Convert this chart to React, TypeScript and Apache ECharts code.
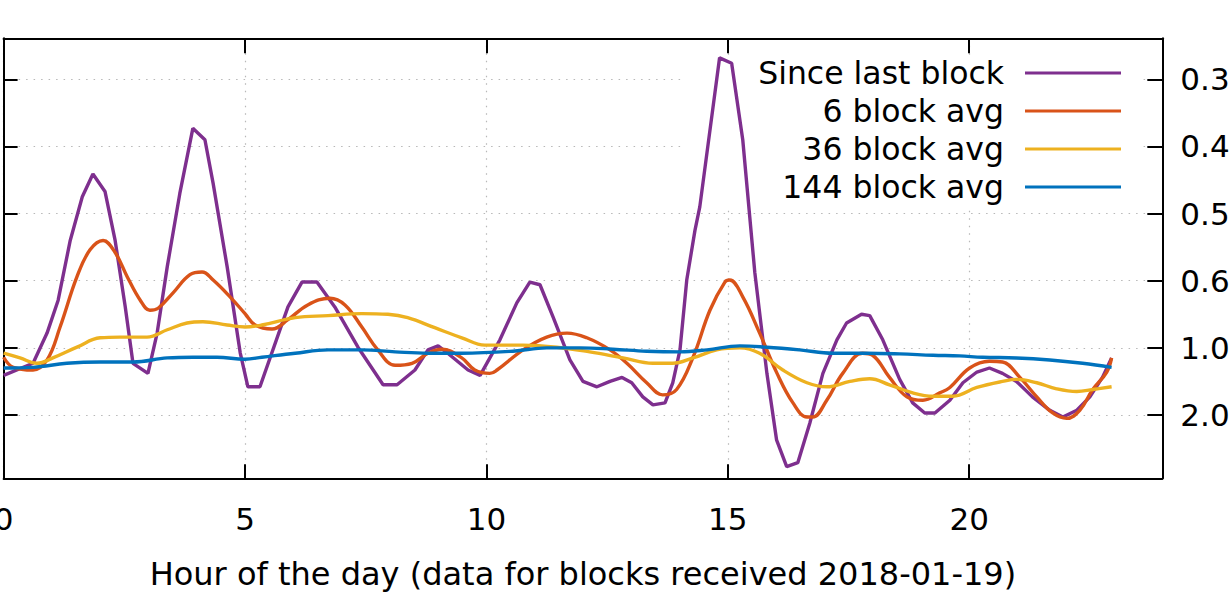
import React, { useEffect, useRef } from "react";
import * as echarts from "echarts";

const seriesNames = ["Since last block", "6 block avg", "36 block avg", "144 block avg"];
const seriesColors = ["#7E2F8E", "#D95319", "#EDB120", "#0072BD"];
const xTickValues = [0, 5, 10, 15, 20];
const yTickValues = [1, 2, 3, 4, 5, 6];
const yTickLabels = ["2.0", "1.0", "0.6", "0.5", "0.4", "0.3"];
const xAxisTitle = "Hour of the day (data for blocks received 2018-01-19)";

const sinceLastHours = [
  0, 0.61, 0.9, 1.13, 1.38, 1.63, 1.85, 2.1, 2.31, 2.52, 2.68, 2.99, 3.18, 3.39, 3.65, 3.92,
  4.17, 4.34, 4.63, 4.9, 5.06, 5.31, 5.89, 6.18, 6.49, 6.86, 7.34, 7.86, 8.15, 8.52, 8.79, 9.0,
  9.2, 9.62, 9.87, 10.28, 10.63, 10.9, 11.11, 11.38, 11.73, 12.0, 12.29, 12.56, 12.81, 13.01,
  13.24, 13.45, 13.7, 13.86, 14.01, 14.15, 14.32, 14.42, 14.83, 15.08, 15.31, 15.56, 15.81,
  16.01, 16.22, 16.45, 16.7, 16.97, 17.26, 17.46, 17.77, 17.94, 18.21, 18.56, 18.83, 19.08,
  19.29, 19.6, 19.87, 20.16, 20.42, 20.69, 20.98, 21.31, 21.67, 21.94, 22.23, 22.5, 22.76, 22.95,
];
const sinceLastValues = [
  1.59, 1.77, 2.22, 2.71, 3.6, 4.25, 4.59, 4.33, 3.6, 2.61, 1.77, 1.62, 2.22, 3.21, 4.3, 5.27,
  5.1, 4.45, 3.21, 1.93, 1.42, 1.42, 2.61, 2.98, 2.98, 2.61, 2.01, 1.45, 1.45, 1.67, 1.97, 2.03,
  1.92, 1.67, 1.59, 2.12, 2.67, 2.98, 2.94, 2.46, 1.82, 1.5, 1.42, 1.5, 1.56, 1.48,
  1.27, 1.15, 1.18, 1.48, 1.97, 3.01, 3.75, 4.1, 6.32, 6.24, 5.1, 3.12, 1.62,
  0.63, 0.23, 0.29, 0.88, 1.62, 2.12, 2.37, 2.5, 2.48, 2.12, 1.53, 1.18, 1.03,
  1.03, 1.22, 1.48, 1.64, 1.7, 1.62, 1.5, 1.27, 1.07, 0.97, 1.07, 1.27, 1.56, 1.85,
];

const avg6Hours = [
  0, 0.2, 0.61, 0.9, 1.17, 1.52, 1.79, 2.06, 2.31, 2.56, 2.83, 3.03, 3.2, 3.51, 3.86, 4.11, 4.34,
  4.69, 5.0, 5.21, 5.56, 5.89, 6.3, 6.76, 7.07, 7.42, 7.75, 8.11, 8.46, 8.79, 9.08, 9.49, 9.76,
  10.07, 10.22, 10.76, 11.25, 11.67, 12.08, 12.56, 12.91, 13.32, 13.65, 13.94, 14.28, 14.63,
  14.94, 15.04, 15.31, 15.66, 16.02, 16.35, 16.64, 16.76, 17.05, 17.38, 17.79, 18.0, 18.35,
  18.71, 19.04, 19.39, 19.6, 20.01, 20.42, 20.69, 21.05, 21.4, 21.73, 22.02, 22.29, 22.56,
  22.85, 22.95,
];
const avg6Values = [
  1.86, 1.71, 1.67, 1.82, 2.31, 3.06, 3.46, 3.6, 3.42, 3.06, 2.71, 2.56, 2.59, 2.82, 3.09, 3.13,
  3.01, 2.76, 2.51, 2.34, 2.28, 2.42, 2.64, 2.74, 2.64, 2.31, 1.97, 1.74, 1.77, 1.92, 1.98, 1.85,
  1.67, 1.62, 1.67, 1.97, 2.16, 2.22, 2.15, 1.97, 1.77, 1.48, 1.3, 1.38, 1.86, 2.56,
  2.98, 3.01, 2.76, 2.22, 1.62, 1.18, 0.97, 0.97, 1.22, 1.62, 1.92, 1.89, 1.56,
  1.27, 1.22, 1.33, 1.41, 1.7, 1.8, 1.79, 1.56, 1.27, 1.03, 0.95, 1.07, 1.38,
  1.64, 1.85,
];

const avg36Hours = [
  0, 0.34, 0.69, 1.02, 1.52, 2.0, 2.41, 2.97, 3.39, 3.8, 4.13, 4.63, 5.0, 5.35, 6.04, 6.72, 7.42,
  7.96, 8.37, 8.93, 9.49, 9.97, 10.28, 10.76, 11.46, 12.14, 12.83, 13.45, 13.86, 14.28, 14.77,
  15.25, 15.66, 16.14, 16.64, 17.05, 17.53, 17.94, 18.35, 18.83, 19.25, 19.66, 20.16, 20.69,
  20.98, 21.4, 21.81, 22.23, 22.56, 22.95,
];
const avg36Values = [
  1.92, 1.85, 1.77, 1.85, 2.01, 2.15, 2.16, 2.16, 2.27, 2.37, 2.39, 2.34, 2.31, 2.34, 2.45, 2.48,
  2.51, 2.5, 2.45, 2.3, 2.15, 2.04, 2.04, 2.04, 2.01, 1.94, 1.85, 1.77, 1.77, 1.85, 1.97,
  2.0, 1.92, 1.67, 1.48, 1.42, 1.5, 1.54, 1.45, 1.33, 1.28, 1.28, 1.41, 1.5,
  1.53, 1.48, 1.39, 1.35, 1.38, 1.42,
];

const avg144Hours = [
  0, 0.61, 1.31, 2.0, 2.68, 3.39, 3.92, 4.42, 5.0, 5.35, 6.04, 6.72, 7.42, 8.11, 8.79, 9.49, 10.55,
  11.25, 11.94, 12.62, 13.32, 14.01, 14.57, 15.25, 15.81, 16.49, 17.18, 17.88, 18.56, 19.25,
  19.8, 20.28, 20.98, 21.67, 22.35, 22.95,
];
const avg144Values = [
  1.7, 1.71, 1.77, 1.79, 1.79, 1.85, 1.86, 1.86, 1.83, 1.86, 1.92, 1.97, 1.97, 1.94, 1.92, 1.92,
  1.95, 2.0, 2.0, 1.98, 1.95, 1.94, 1.97, 2.03, 2.01, 1.97, 1.92, 1.92, 1.91, 1.89,
  1.88, 1.86, 1.85, 1.82, 1.77, 1.71,
];

const zip = (xs: number[], ys: number[]) => xs.map((x, i) => [x, ys[i]]);

const FONT = "DejaVu Sans";

export default function App() {
  const ref = useRef<HTMLDivElement>(null);

  useEffect(() => {
    if (!ref.current) return;
    const chart = echarts.init(ref.current, undefined, { renderer: "svg" });

    const dotted = { show: true, lineStyle: { color: "#b8b8b8", width: 1.2, type: [1.5, 6] as any } };
    const axisLine = { show: true, onZero: false, lineStyle: { color: "#000", width: 2 } };

    const seriesData = [
      zip(sinceLastHours, sinceLastValues),
      zip(avg6Hours, avg6Values),
      zip(avg36Hours, avg36Values),
      zip(avg144Hours, avg144Values),
    ];

    chart.setOption({
      animation: false,
      backgroundColor: "#fff",
      textStyle: { fontFamily: FONT },
      grid: {
        left: 3.6,
        right: 67.7,
        top: 38.3,
        bottom: 121.7,
        containLabel: false,
        outerBoundsMode: "none",
      },
      legend: {
        data: seriesNames,
        orient: "vertical",
        align: "right",
        right: 109,
        top: 54,
        padding: 0,
        itemGap: 0,
        itemWidth: 96,
        itemHeight: 3,
        icon: "rect",
        textStyle: {
          fontFamily: FONT,
          fontSize: 31.5,
          color: "#000",
          lineHeight: 38,
          padding: [0, 16, 0, 0],
        },
      },
      graphic: [
        {
          type: "rect",
          z: 1,
          shape: { x: 683, y: 56, width: 457, height: 149 },
          style: { fill: "#fff" },
          silent: true,
        },
      ],
      xAxis: [
        {
          type: "value",
          position: "bottom",
          min: 0,
          max: 24,
          axisLine,
          axisTick: { show: true, inside: true, length: 14, lineStyle: { color: "#000", width: 2 }, customValues: xTickValues },
          axisLabel: {
            show: true,
            customValues: xTickValues,
            fontFamily: FONT,
            fontSize: 31,
            color: "#000",
            margin: 25,
          },
          splitLine: dotted,
          name: xAxisTitle,
          nameLocation: "middle",
          nameGap: 80,
          nameTextStyle: { fontFamily: FONT, fontSize: 32, color: "#000" },
        },
        {
          type: "value",
          position: "top",
          min: 0,
          max: 24,
          axisLine,
          axisTick: { show: true, inside: true, length: 15, lineStyle: { color: "#000", width: 2 }, customValues: xTickValues },
          axisLabel: { show: false },
          splitLine: { show: false },
        },
      ],
      yAxis: [
        {
          type: "value",
          position: "left",
          min: 0.057,
          max: 6.611,
          axisLine,
          axisTick: { show: true, inside: true, length: 14, lineStyle: { color: "#000", width: 2 }, customValues: yTickValues },
          axisLabel: { show: false, customValues: yTickValues },
          splitLine: dotted,
        },
        {
          type: "value",
          position: "right",
          min: 0.057,
          max: 6.611,
          axisLine,
          axisTick: { show: true, inside: true, length: 15, lineStyle: { color: "#000", width: 2 }, customValues: yTickValues },
          axisLabel: {
            show: true,
            customValues: yTickValues,
            fontFamily: FONT,
            fontSize: 31,
            color: "#000",
            margin: 18,
            formatter: (v: number) => yTickLabels[Math.round(v) - 1] ?? "",
          },
          splitLine: { show: false },
        },
      ],
      series: seriesNames.map((name, i) => ({
        name,
        type: "line",
        xAxisIndex: 0,
        yAxisIndex: 0,
        data: seriesData[i],
        symbol: "none",
        showSymbol: false,
        smooth: i === 0 ? false : 0.4,
        color: seriesColors[i],
        lineStyle: { color: seriesColors[i], width: 3.4 },
        z: 2 + i * 0.1,
      })),
    });

    return () => chart.dispose();
  }, []);

  return (
    <div
      ref={ref}
      style={{ position: "absolute", left: 0, top: 0, width: 1230, height: 600 }}
    />
  );
}
